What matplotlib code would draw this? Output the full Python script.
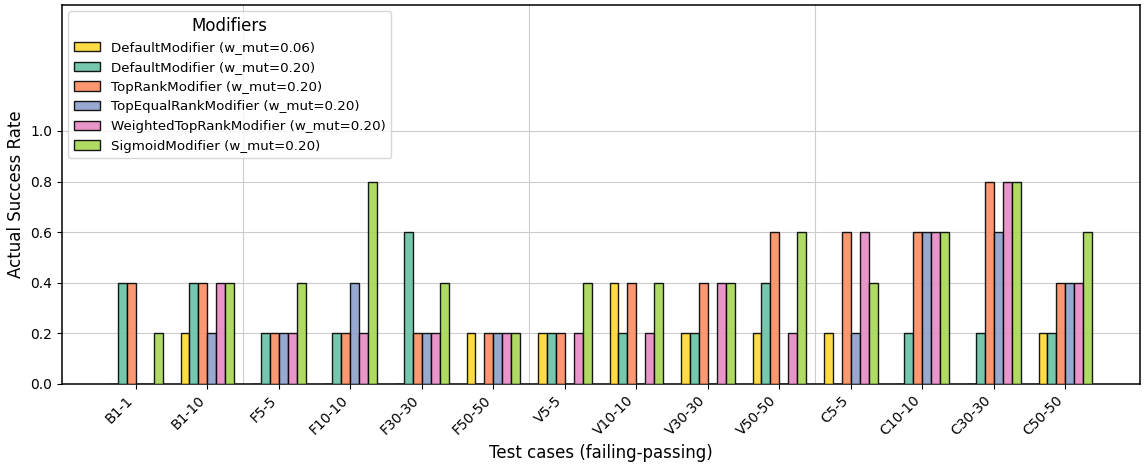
import numpy as np
import matplotlib
matplotlib.use("Agg")
import matplotlib.pyplot as plt

# data
test_cases = ["B1-1", "B1-10", "F5-5", "F10-10", "F30-30", "F50-50", "V5-5",
              "V10-10", "V30-30", "V50-50", "C5-5", "C10-10", "C30-30", "C50-50"]

default_006 = [0.0, 0.2, 0.0, 0.0, 0.0, 0.2, 0.2, 0.4, 0.2, 0.2, 0.2, 0.0, 0.0, 0.2]
default_020 = [0.4, 0.4, 0.2, 0.2, 0.6, 0.0, 0.2, 0.2, 0.2, 0.4, 0.0, 0.2, 0.2, 0.2]
top_rank = [0.4, 0.4, 0.2, 0.2, 0.2, 0.2, 0.2, 0.4, 0.4, 0.6, 0.6, 0.6, 0.8, 0.4]
top_equal_rank = [0.0, 0.2, 0.2, 0.4, 0.2, 0.2, 0.0, 0.0, 0.0, 0.0, 0.2, 0.6, 0.6, 0.4]
weighted_top_rank = [0.0, 0.4, 0.2, 0.2, 0.2, 0.2, 0.2, 0.2, 0.4, 0.2, 0.6, 0.6, 0.8, 0.4]
sigmoid = [0.2, 0.4, 0.4, 0.8, 0.4, 0.2, 0.4, 0.4, 0.4, 0.6, 0.4, 0.6, 0.8, 0.6]

series = [
    ("DefaultModifier (w_mut=0.06)", default_006),
    ("DefaultModifier (w_mut=0.20)", default_020),
    ("TopRankModifier (w_mut=0.20)", top_rank),
    ("TopEqualRankModifier (w_mut=0.20)", top_equal_rank),
    ("WeightedTopRankModifier (w_mut=0.20)", weighted_top_rank),
    ("SigmoidModifier (w_mut=0.20)", sigmoid),
]
colors = ["#ffd92f", "#66c2a5", "#fc8d62", "#8da0cb", "#e78ac3", "#a6d854"]

# group separators (B | F | V | C)
separators = [1.5, 5.5, 9.5]

fig, ax = plt.subplots(figsize=(11.45, 4.65), dpi=100)

x = np.arange(len(test_cases))
width = 0.125
n = len(series)
for i, (label, vals) in enumerate(series):
    offset = (i - (n - 1) / 2) * width
    ax.bar(x + offset, vals, width, label=label, color=colors[i],
           edgecolor="black", linewidth=1, alpha=0.9, zorder=3)

ax.set_axisbelow(True)
ax.grid(axis="y", color="#cccccc", linewidth=0.8, zorder=0)
for s in separators:
    ax.axvline(s, color="#cccccc", linewidth=0.8, zorder=0)

ax.set_ylim(0, 1.5)
ax.set_yticks([0.0, 0.2, 0.4, 0.6, 0.8, 1.0])
ax.set_xlim(-1.035, 14.05)
ax.set_xticks(x)
ax.set_xticklabels(test_cases, rotation=45, ha="right")
ax.tick_params(labelsize=10)
for sp in ax.spines.values():
    sp.set_linewidth(1.1)
ax.set_xlabel("Test cases (failing-passing)", fontsize=12)
ax.set_ylabel("Actual Success Rate", fontsize=12)

ax.legend(title="Modifiers", loc="upper left", fontsize=9.6, title_fontsize=12)

plt.subplots_adjust(left=0.054, right=0.996, top=0.99, bottom=0.175)
plt.savefig("out.png", dpi=100)
